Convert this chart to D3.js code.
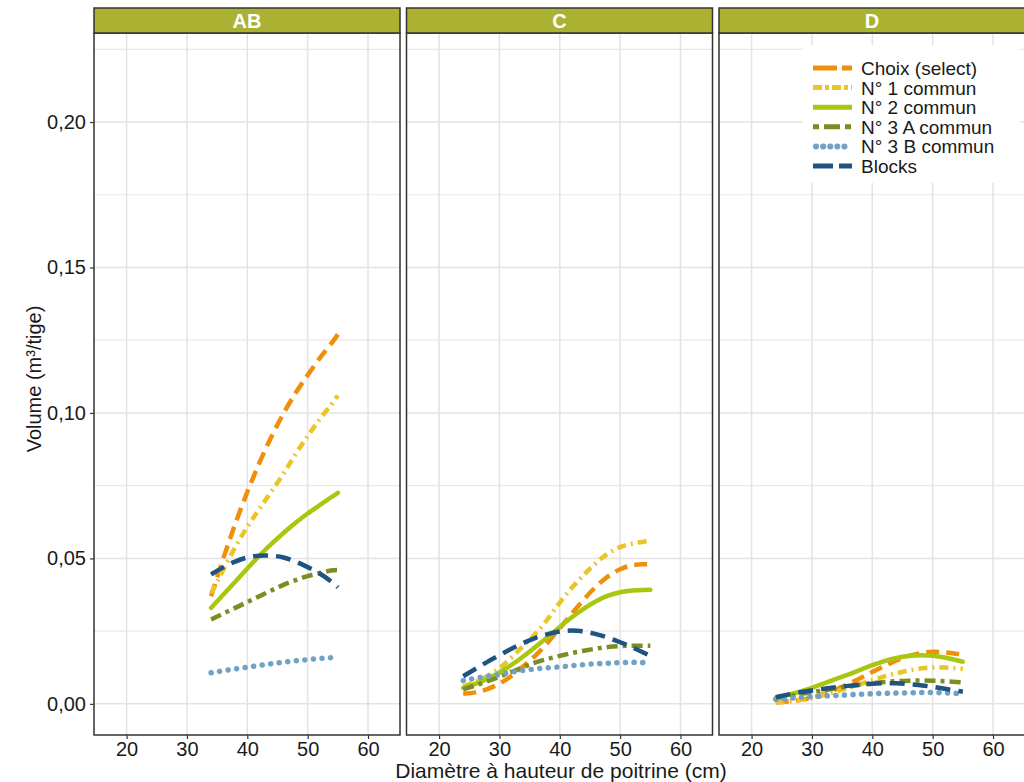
<!DOCTYPE html>
<html>
<head>
<meta charset="utf-8">
<script src="https://cdn.jsdelivr.net/npm/d3@7"></script>
<style>
  body { margin: 0; background: #fff; }
  svg { display: block; font-family: "Liberation Sans", Arial, sans-serif; }
</style>
</head>
<body>
<svg width="1024" height="782"></svg>
<script>
// panels and series
var panels = ["AB", "C", "D"];
var seriesNames = ["Choix (select)", "N° 1 commun", "N° 2 commun", "N° 3 A commun", "N° 3 B commun", "Blocks"];

// diameters (cm) where the curves were read
var diaAB = [34, 36, 38, 40, 42, 44, 46, 48, 50, 52, 54, 55];
var diaCD = [24, 26, 28, 30, 32, 34, 36, 38, 40, 42, 44, 46, 48, 50, 52, 54, 55];

// volume (m3/tige), panel AB
var choixAB = [0.037, 0.050, 0.062, 0.073, 0.083, 0.092, 0.100, 0.107, 0.113, 0.119, 0.124, 0.127];
var n1AB = [0.038, 0.046, 0.054, 0.061, 0.067, 0.073, 0.079, 0.086, 0.092, 0.098, 0.103, 0.106];
var n2AB = [0.033, 0.0375, 0.042, 0.0465, 0.051, 0.055, 0.0588, 0.0623, 0.0655, 0.0683, 0.0712, 0.0725];
var n3aAB = [0.029, 0.031, 0.033, 0.035, 0.037, 0.039, 0.041, 0.0425, 0.044, 0.045, 0.046, 0.046];
var n3bAB = [0.0107, 0.0114, 0.012, 0.0126, 0.0132, 0.0138, 0.0143, 0.0148, 0.0152, 0.0156, 0.0159, 0.016];
var blocksAB = [0.0445, 0.047, 0.049, 0.0505, 0.051, 0.051, 0.0505, 0.049, 0.047, 0.045, 0.042, 0.040];

// panel C
var choixC = [0.0035, 0.0038, 0.005, 0.0068, 0.0095, 0.013, 0.0165, 0.021, 0.026, 0.031, 0.036, 0.0405, 0.044, 0.0465, 0.0478, 0.048, 0.048];
var n1C = [0.006, 0.0075, 0.0095, 0.012, 0.016, 0.020, 0.024, 0.029, 0.035, 0.040, 0.0445, 0.0485, 0.052, 0.054, 0.0552, 0.0558, 0.056];
var n2C = [0.0055, 0.0068, 0.0085, 0.0107, 0.0133, 0.0163, 0.0196, 0.023, 0.0265, 0.0298, 0.0328, 0.0354, 0.0373, 0.0385, 0.039, 0.0392, 0.0392];
var n3aC = [0.005, 0.0063, 0.0078, 0.0093, 0.011, 0.0127, 0.0143, 0.0155, 0.0165, 0.0175, 0.0183, 0.019, 0.0196, 0.0199, 0.020, 0.020, 0.020];
var n3bC = [0.008, 0.0088, 0.0095, 0.010, 0.011, 0.0115, 0.012, 0.0124, 0.0127, 0.0131, 0.0135, 0.0138, 0.014, 0.0142, 0.0143, 0.0142, 0.014];
var blocksC = [0.0095, 0.012, 0.0145, 0.0167, 0.019, 0.021, 0.0228, 0.024, 0.025, 0.0253, 0.025, 0.024, 0.0228, 0.0212, 0.0195, 0.0175, 0.0165];

// panel D
var choixD = [0.0005, 0.0008, 0.0013, 0.002, 0.0034, 0.005, 0.0068, 0.0088, 0.011, 0.013, 0.015, 0.0166, 0.0175, 0.018, 0.0178, 0.0172, 0.0168];
var n1D = [0.0005, 0.0008, 0.0013, 0.002, 0.003, 0.0042, 0.0055, 0.0068, 0.0082, 0.0095, 0.0105, 0.0115, 0.0122, 0.0126, 0.0125, 0.0122, 0.012];
var n2D = [0.002, 0.003, 0.0042, 0.0055, 0.007, 0.0086, 0.010, 0.0117, 0.0133, 0.0148, 0.0158, 0.0165, 0.0168, 0.0166, 0.016, 0.015, 0.0145];
var n3aD = [0.002, 0.0027, 0.0033, 0.004, 0.0047, 0.0054, 0.006, 0.0066, 0.0071, 0.0075, 0.0078, 0.008, 0.008, 0.008, 0.0078, 0.0075, 0.0074];
var n3bD = [0.0015, 0.0019, 0.0022, 0.0025, 0.0027, 0.0029, 0.0031, 0.0033, 0.0035, 0.0036, 0.0037, 0.0038, 0.0039, 0.0039, 0.0038, 0.0036, 0.0035];
var blocksD = [0.0023, 0.0032, 0.004, 0.0046, 0.0052, 0.0057, 0.0062, 0.0066, 0.007, 0.0071, 0.0071, 0.0068, 0.0064, 0.0059, 0.0052, 0.0045, 0.0042];

// axis ticks
var xTicks = [20, 30, 40, 50, 60];
var yTicks = [0, 0.05, 0.10, 0.15, 0.20];
var yMinor = [0.025, 0.075, 0.125, 0.175, 0.225];

var panelData = {
  AB: { dia: diaAB, values: [choixAB, n1AB, n2AB, n3aAB, n3bAB, blocksAB] },
  C: { dia: diaCD, values: [choixC, n1C, n2C, n3aC, n3bC, blocksC] },
  D: { dia: diaCD, values: [choixD, n1D, n2D, n3aD, n3bD, blocksD] }
};

// styles for each series
var colors = ["#f0900a", "#ebc425", "#a9c70e", "#7d8d23", "#71a2c3", "#1f5482"];
var dashes = ["13,7", "9,5,2,5", null, "11,5,4,5", "0.1,8.5", "15,8"];
var legendDashes = ["24,5", "9,3,4,3", null, "6,5,16,5", "0.1,7", "20,6"];
var caps = ["butt", "butt", "round", "butt", "round", "butt"];

var svg = d3.select("svg");
var panelW = 306;
var panelStep = 312.5;
var left0 = 94;
var stripTop = 8;
var plotTop = 33;
var plotBottom = 735;
var textCol = "#1a1a1a";

var x = d3.scaleLinear().domain([14.6, 65.3]).range([0, panelW]);
var y = d3.scaleLinear().domain([-0.0107, 0.2306]).range([plotBottom, plotTop]);

var line = d3
  .line()
  .x(function(d) { return x(d[0]); })
  .y(function(d) { return y(d[1]); })
  .curve(d3.curveBasis);

var fmt = d3.format(".2f");

panels.forEach(function(p, i) {
  var g = svg.append("g").attr("transform", "translate(" + (left0 + i * panelStep) + ",0)");

  // grid
  g.selectAll(".minor")
    .data(yMinor)
    .enter()
    .append("line")
    .attr("x1", 0)
    .attr("x2", panelW)
    .attr("y1", function(d) { return y(d); })
    .attr("y2", function(d) { return y(d); })
    .attr("stroke", "#e8e8e8")
    .attr("stroke-width", 1.2);

  g.selectAll(".majorY")
    .data(yTicks)
    .enter()
    .append("line")
    .attr("x1", 0)
    .attr("x2", panelW)
    .attr("y1", function(d) { return y(d); })
    .attr("y2", function(d) { return y(d); })
    .attr("stroke", "#e3e3e3")
    .attr("stroke-width", 1.5);

  g.selectAll(".majorX")
    .data(xTicks)
    .enter()
    .append("line")
    .attr("x1", function(d) { return x(d); })
    .attr("x2", function(d) { return x(d); })
    .attr("y1", plotTop)
    .attr("y2", plotBottom)
    .attr("stroke", "#e3e3e3")
    .attr("stroke-width", 1.5);

  // curves
  var pd = panelData[p];
  pd.values.forEach(function(vals, s) {
    var pts = pd.dia.map(function(dd, k) { return [dd, vals[k]]; });
    g.append("path")
      .attr("d", line(pts))
      .attr("fill", "none")
      .attr("stroke", colors[s])
      .attr("stroke-width", s == 4 ? 5.5 : 4.5)
      .attr("stroke-linecap", caps[s])
      .attr("stroke-dasharray", dashes[s]);
  });

  // border
  g.append("rect")
    .attr("x", 0)
    .attr("y", plotTop)
    .attr("width", panelW)
    .attr("height", plotBottom - plotTop)
    .attr("fill", "none")
    .attr("stroke", "#333")
    .attr("stroke-width", 1.5);

  // strip
  g.append("rect")
    .attr("x", 0)
    .attr("y", stripTop)
    .attr("width", panelW)
    .attr("height", plotTop - stripTop)
    .attr("fill", "#abb131")
    .attr("stroke", "#333")
    .attr("stroke-width", 1.5);
  g.append("text")
    .attr("x", panelW / 2)
    .attr("y", plotTop - 5)
    .attr("text-anchor", "middle")
    .attr("fill", "#fff")
    .attr("font-weight", "bold")
    .attr("font-size", 20)
    .text(p);

  // x axis
  var xAxis = d3.axisBottom(x).tickValues(xTicks).tickSize(4).tickPadding(3).tickFormat(d3.format("d"));
  var ax = g.append("g").attr("transform", "translate(0," + plotBottom + ")").call(xAxis);
  ax.select(".domain").remove();
  ax.selectAll("line").attr("stroke", "#333").attr("stroke-width", 1.2);
  ax.selectAll("text").attr("font-size", 20).attr("fill", textCol).attr("font-family", "Liberation Sans, Arial, sans-serif");

  if (i == 0) {
    var yAxis = d3.axisLeft(y).tickValues(yTicks).tickSize(4).tickPadding(4).tickFormat(function(d) {
      return fmt(d).replace(".", ",");
    });
    var ay = g.append("g").call(yAxis);
    ay.select(".domain").remove();
    ay.selectAll("line").attr("stroke", "#333").attr("stroke-width", 1.2);
    ay.selectAll("text").attr("font-size", 20).attr("fill", textCol).attr("font-family", "Liberation Sans, Arial, sans-serif");
  }
});

// axis titles
svg.append("text")
  .attr("x", 561)
  .attr("y", 778)
  .attr("text-anchor", "middle")
  .attr("font-size", 21)
  .attr("fill", textCol)
  .text("Diamètre à hauteur de poitrine (cm)");

svg.append("text")
  .attr("transform", "translate(41,379) rotate(-90)")
  .attr("text-anchor", "middle")
  .attr("font-size", 20)
  .attr("fill", textCol)
  .text("Volume (m³/tige)");

// legend inside panel D
var lg = svg.append("g");
lg.append("rect")
  .attr("x", 803)
  .attr("y", 45)
  .attr("width", 217)
  .attr("height", 138)
  .attr("fill", "#fff");

var legendY = d3.scalePoint().domain(seriesNames).range([68, 166]);

seriesNames.forEach(function(name, s) {
  var yy = legendY(name);
  lg.append("line")
    .attr("x1", s == 4 ? 816 : 813)
    .attr("x2", s == 4 ? 849 : 852)
    .attr("y1", yy)
    .attr("y2", yy)
    .attr("stroke", colors[s])
    .attr("stroke-width", s == 4 ? 6 : 5)
    .attr("stroke-linecap", s == 4 ? "round" : "butt")
    .attr("stroke-dasharray", legendDashes[s]);
  lg.append("text")
    .attr("x", 861)
    .attr("y", yy + 7)
    .attr("font-size", 19)
    .attr("textLength", null)
    .attr("fill", textCol)
    .text(name);
});
</script>
</body>
</html>
